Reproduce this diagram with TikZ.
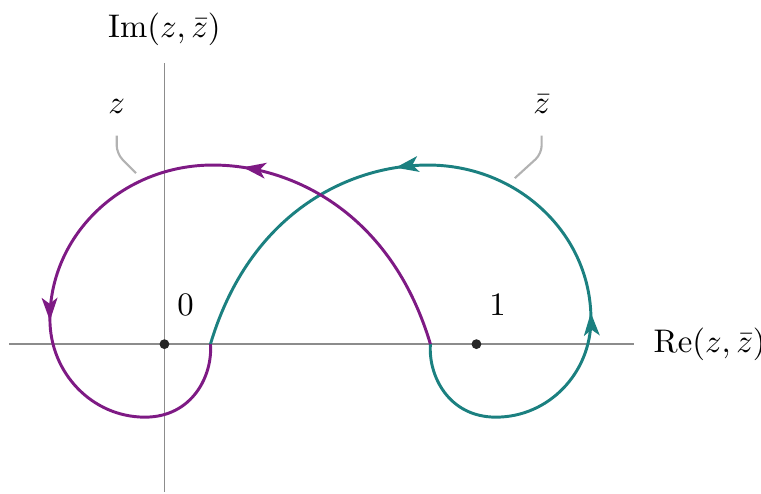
\documentclass[tikz,border=0pt]{standalone}
\usepackage{amsmath}
\usetikzlibrary{arrows.meta, positioning, decorations.markings}
\definecolor{zpurple}{HTML}{7E1A84}
\definecolor{zteal}{HTML}{1B8080}
\tikzset{
    >={Stealth[length=7pt, width=4.8pt, inset=1.8pt]},
    axis/.style={draw=black!45, line width=0.45pt},
    pathline/.style={line width=0.9pt},
    zcurve/.style={pathline, color=zpurple},
    zbarcurve/.style={pathline, color=zteal},
    leader/.style={draw=black!30, line width=0.65pt, rounded corners=2.5pt},
    lbl/.style={inner sep=0pt},
    pt/.style={circle, fill=black!85, inner sep=0pt, minimum size=3pt},
    marks/.style 2 args={postaction={decorate}, decoration={markings,
        mark=at position #1 with {\arrow{>}},
        mark=at position #2 with {\arrow{>}}}}
}

\begin{document}
\begin{tikzpicture}[x=3.35cm, y=3.35cm]
    \useasboundingbox (-0.527,-0.478) rectangle (1.912,1.103);
    % axes
    \draw[axis] (-0.498,0) -- (1.505,0);
    \draw[axis] (0,-0.474) -- (0,0.901);
    \node[lbl] (imlab) at (0,1.01) {$\mathrm{Im}(z,\bar{z})$};
    \node[lbl, anchor=west] (relab) at (1.566,0) {$\mathrm{Re}(z,\bar{z})$};
    \node[pt] (o) at (0,0) {};
    \node[pt] (one) at (1,0) {};
    \node[lbl, above right=7.35pt and 2.54pt of o] (olab) {$0$};
    \node[lbl, above right=7.35pt and 2.54pt of one] (onelab) {$1$};
    % curves
    \coordinate (cross0) at (0.1475,0);
    \coordinate (cross1) at (0.8525,0);
    \draw[zbarcurve, marks={0.33}{0.668}] (cross1)
        .. controls (0.845,-0.1) and (0.91,-0.234) .. (1.0625,-0.234)
        .. controls (1.231,-0.234) and (1.367,-0.093) .. (1.367,0.08)
        .. controls (1.367,0.353) and (1.133,0.574) .. (0.845,0.574)
        .. controls (0.591,0.574) and (0.273,0.421) .. (cross0);
    \draw[zcurve, marks={0.335}{0.68}] (cross1)
        .. controls (0.727,0.421) and (0.409,0.574) .. (0.155,0.574)
        .. controls (-0.133,0.574) and (-0.367,0.353) .. (-0.367,0.08)
        .. controls (-0.367,-0.093) and (-0.231,-0.234) .. (-0.0625,-0.234)
        .. controls (0.09,-0.234) and (0.155,-0.1) .. (cross0);
    % labels with leaders
    \node[lbl] (zlab) at (-0.153,0.761) {$z$};
    \node[lbl] (zbarlab) at (1.209,0.768) {$\bar{z}$};
    \coordinate (zend) at (-0.091,0.548);
    \coordinate (zbarend) at (1.123,0.532);
    \draw[leader] ([yshift=-6.5pt]zlab.south) -- ++(0,-5.5pt) -- (zend);
    \draw[leader] ([yshift=-6.5pt]zbarlab.south) -- ++(0,-5.5pt) -- (zbarend);
\end{tikzpicture}
\end{document}
